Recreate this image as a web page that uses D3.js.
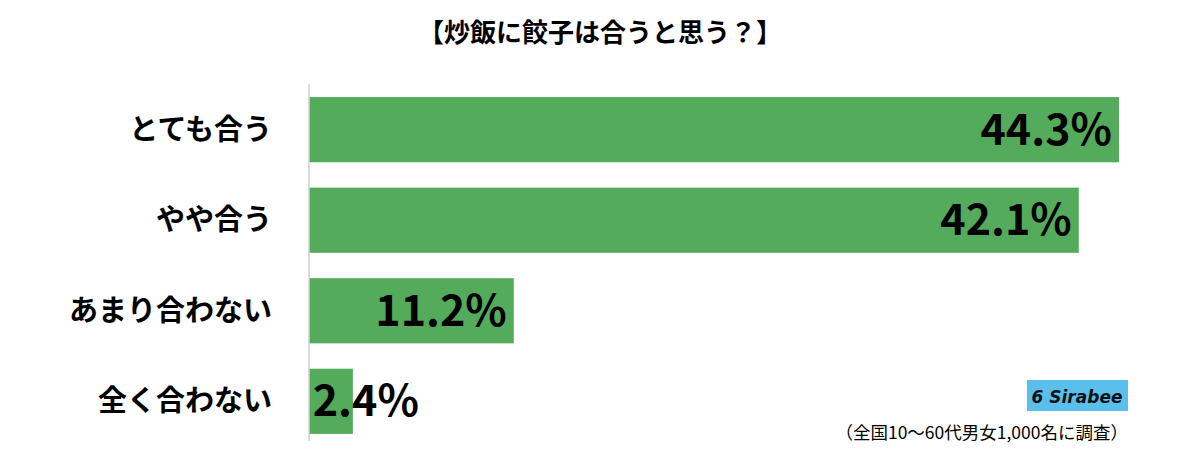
<!DOCTYPE html><html><head><meta charset="utf-8"><script src="https://d3js.org/d3.v7.min.js"></script>
<style>body{margin:0;background:#fff}</style></head><body><svg id="c" width="1200" height="449"></svg>
<script>
const categories=["とても合う","やや合う","あまり合わない","全く合わない"];
const values=[44.3,42.1,11.2,2.4];
const labels=["44.3%","42.1%","11.2%","2.4%"];
const svg=d3.select("#c");
const F="'Noto Sans CJK JP',sans-serif";
const x=d3.scaleLinear().domain([0,44.3]).range([309,1119]);
const y=d3.scaleBand().domain(categories).range([79,452]).paddingInner(0.28).paddingOuter(0.2);
svg.append("text").attr("x",600).attr("y",42).attr("text-anchor","middle").attr("font-family",F).attr("font-weight","bold").attr("font-size",26).text("【炒飯に餃子は合うと思う？】");
svg.selectAll("rect.b").data(values).enter().append("rect").attr("x",x(0)).attr("y",(d,i)=>y(categories[i])).attr("width",d=>x(d)-x(0)).attr("height",y.bandwidth()).attr("fill","#53ab5b");
svg.append("line").attr("x1",309).attr("x2",309).attr("y1",84).attr("y2",441).attr("stroke","#d0d0d0").attr("stroke-width",1.5);
svg.selectAll("text.c").data(categories).enter().append("text").attr("x",272).attr("y",d=>y(d)+y.bandwidth()/2+10).attr("text-anchor","end").attr("font-family",F).attr("font-weight","bold").attr("font-size",29).text(d=>d);
svg.selectAll("text.v").data(values).enter().append("text").attr("x",(d,i)=>x(d)-7+(i==3?73:0)).attr("y",(d,i)=>y(categories[i])+y.bandwidth()/2+15).attr("text-anchor","end").attr("font-family",F).attr("font-weight","bold").attr("font-size",43).text((d,i)=>labels[i]);
svg.append("rect").attr("x",1027).attr("y",380).attr("width",101).attr("height",31).attr("fill","#5bbfec");
svg.append("text").attr("x",1077).attr("y",403).attr("text-anchor","middle").attr("font-family","DejaVu Sans").attr("font-weight","bold").attr("font-style","italic").attr("font-size",17).attr("fill","#111").text("6 Sirabee");
svg.append("text").attr("x",1128).attr("y",439).attr("text-anchor","end").attr("font-family",F).attr("font-size",17.5).text("（全国10〜60代男女1,000名に調査）");
</script></body></html>
